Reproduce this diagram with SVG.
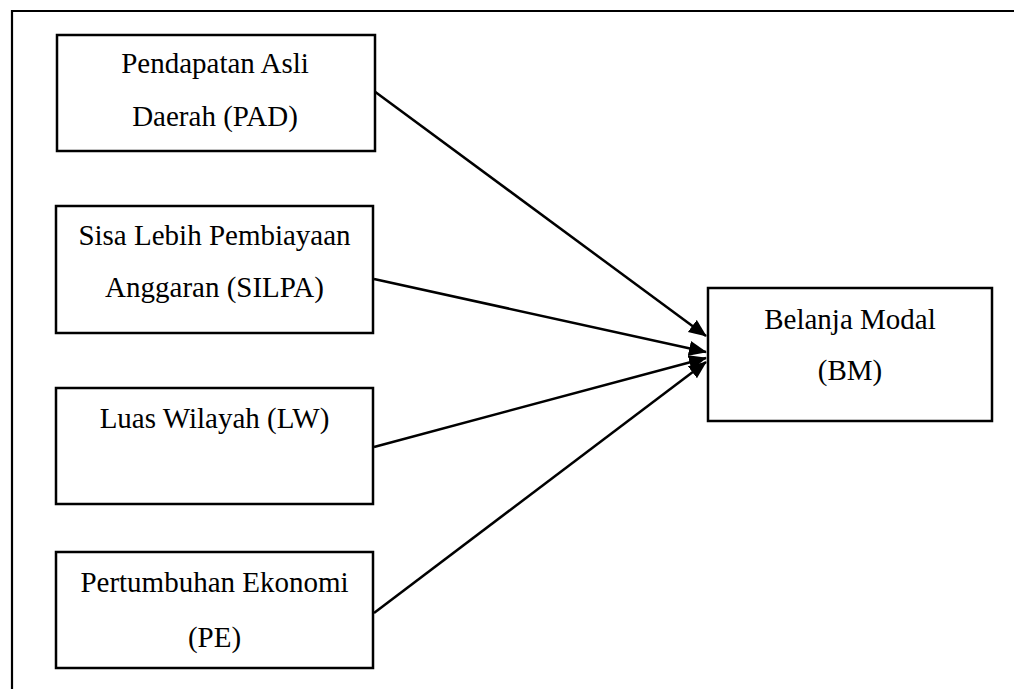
<svg xmlns="http://www.w3.org/2000/svg" width="1014" height="689" viewBox="0 0 1014 689">
<defs>
<style>
.box{fill:#fff;stroke:#000;stroke-width:2.5}
.lbl{font-family:"Liberation Serif","Times New Roman",serif;font-size:29px;fill:#000;text-anchor:middle}
.conn{stroke:#000;stroke-width:2.5;fill:none;marker-end:url(#ah)}
.frame{stroke:#000;stroke-width:2.2;fill:none}
</style>
<marker id="ah" markerWidth="18" markerHeight="16" refX="17" refY="7.5" orient="auto" markerUnits="userSpaceOnUse">
<path d="M0,0 L18,7.5 L0,15 Z" fill="#000"/>
</marker>
</defs>
<rect width="1014" height="689" fill="#fff"/>
<path class="frame" d="M12,689 L12,11 L1014,11"/>
<g id="connectors">
<line class="conn" x1="374" y1="91" x2="706" y2="336"/>
<line class="conn" x1="374" y1="279" x2="706" y2="352"/>
<line class="conn" x1="374" y1="447" x2="706" y2="358"/>
<line class="conn" x1="374" y1="613" x2="706" y2="362"/>
</g>
<g id="pad">
<rect class="box" x="57" y="35" width="318" height="116"/>
<text class="lbl" x="215" y="73">Pendapatan Asli</text>
<text class="lbl" x="215" y="126">Daerah (PAD)</text>
</g>
<g id="silpa">
<rect class="box" x="56" y="206" width="317" height="127"/>
<text class="lbl" x="214.5" y="245">Sisa Lebih Pembiayaan</text>
<text class="lbl" x="214.5" y="297">Anggaran (SILPA)</text>
</g>
<g id="lw">
<rect class="box" x="56" y="388" width="317" height="116"/>
<text class="lbl" x="214.5" y="428">Luas Wilayah (LW)</text>
</g>
<g id="pe">
<rect class="box" x="56" y="552" width="317" height="116"/>
<text class="lbl" x="214.5" y="592">Pertumbuhan Ekonomi</text>
<text class="lbl" x="214.5" y="647">(PE)</text>
</g>
<g id="bm">
<rect class="box" x="708" y="288" width="284" height="133"/>
<text class="lbl" x="850" y="329">Belanja Modal</text>
<text class="lbl" x="850" y="380">(BM)</text>
</g>
</svg>
